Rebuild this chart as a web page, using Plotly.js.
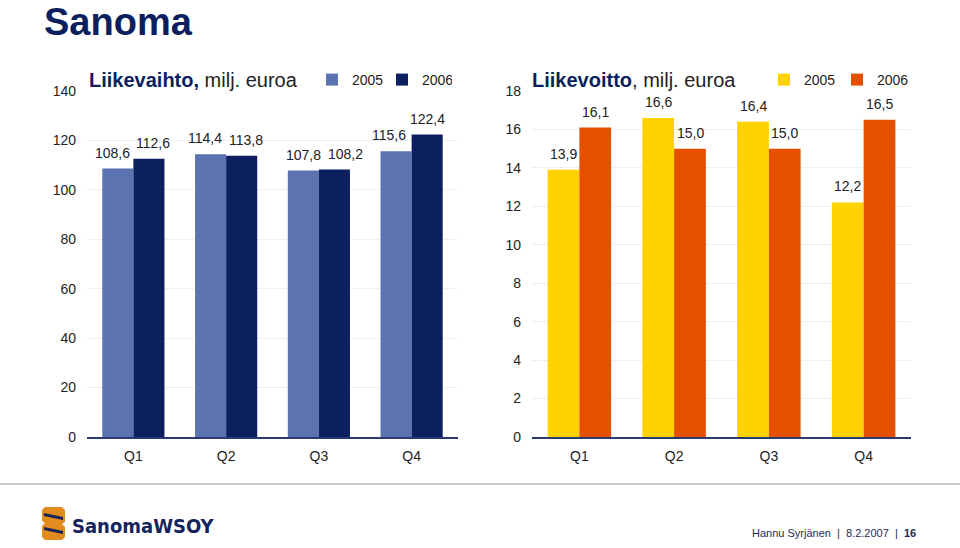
<!DOCTYPE html>
<html><head><meta charset="utf-8">
<script src="https://cdn.plot.ly/plotly-3.0.1.min.js"></script>
<style>html,body{margin:0;padding:0;background:#fff}#chart{width:960px;height:548px}</style>
</head><body><div id="chart"></div>
<script>
const quarters = ['Q1', 'Q2', 'Q3', 'Q4'];
const years = ['2005', '2006'];
const revenue2005 = [108.6, 114.4, 107.8, 115.6];
const revenue2006 = [112.6, 113.8, 108.2, 122.4];
const profit2005 = [13.9, 16.6, 16.4, 12.2];
const profit2006 = [16.1, 15.0, 15.0, 16.5];
const revenueTicks = [0, 20, 40, 60, 80, 100, 120, 140];
const profitTicks = [0, 2, 4, 6, 8, 10, 12, 14, 16, 18];

// layout helpers (pixel -> paper)
const W = 960, H = 548;
const px = x => x / W;
const py = y => 1 - y / H;
const FONT = 'Liberation Sans, Arial, Helvetica, sans-serif';
const fmt = v => v.toFixed(1).replace('.', ',');

// label nudges (pixels) to avoid overlaps, as in the original
const revNudge2005 = [-5, -6, 0, -7];
const revNudge2006 = [4, 4, 11, 0];

const C = {rev05: '#5b73b1', rev06: '#0c1f5e', pr05: '#ffd200', pr06: '#e55000', navy: '#0b1f5e', txt: '#222222'};

const traces = [
  {type: 'bar', x: quarters, y: revenue2005, name: years[0], marker: {color: C.rev05}, xaxis: 'x', yaxis: 'y', legend: 'legend', hoverinfo: 'none'},
  {type: 'bar', x: quarters, y: revenue2006, name: years[1], marker: {color: C.rev06}, xaxis: 'x', yaxis: 'y', legend: 'legend', hoverinfo: 'none'},
  {type: 'bar', x: quarters, y: profit2005, name: years[0], marker: {color: C.pr05}, xaxis: 'x2', yaxis: 'y2', legend: 'legend2', hoverinfo: 'none'},
  {type: 'bar', x: quarters, y: profit2006, name: years[1], marker: {color: C.pr06}, xaxis: 'x2', yaxis: 'y2', legend: 'legend2', hoverinfo: 'none'}
];

const gap = 0.33;
const off = (1 - gap) / 4;
const annotations = [];
function addLabels(vals, sign, xa, ya, nudges) {
  vals.forEach((v, i) => annotations.push({
    xref: xa, yref: ya, x: i + sign * off, y: v, text: fmt(v), showarrow: false,
    yanchor: 'bottom', yshift: 6, xshift: nudges ? nudges[i] : 0,
    font: {family: FONT, size: 14, color: C.txt}
  }));
}
addLabels(revenue2005, -1, 'x', 'y', revNudge2005);
addLabels(revenue2006, 1, 'x', 'y', revNudge2006);
addLabels(profit2005, -1, 'x2', 'y2');
addLabels(profit2006, 1, 'x2', 'y2');

annotations.push(
  {xref: 'paper', yref: 'paper', x: px(43), y: 1, xanchor: 'left', yanchor: 'top', showarrow: false, borderpad: 0,
   text: '<b>Sanoma</b>', font: {family: FONT, size: 38, color: C.navy}},
  {xref: 'paper', yref: 'paper', x: px(87), y: py(80), xanchor: 'left', yanchor: 'middle', showarrow: false,
   text: '<b><span style="color:' + C.navy + '">Liikevaihto,</span></b> milj. euroa', font: {family: FONT, size: 20, color: C.txt}},
  {xref: 'paper', yref: 'paper', x: px(530), y: py(80), xanchor: 'left', yanchor: 'middle', showarrow: false,
   text: '<b><span style="color:' + C.navy + '">Liikevoitto</span></b>, milj. euroa', font: {family: FONT, size: 20, color: C.txt}},
  {xref: 'paper', yref: 'paper', x: px(70), y: py(526), xanchor: 'left', yanchor: 'middle', showarrow: false,
   text: '<b>SanomaWSOY</b>', font: {family: 'Liberation Sans Narrow, DejaVu Sans Condensed, DejaVu Sans, sans-serif', size: 20, color: '#14245c'}},
  {xref: 'paper', yref: 'paper', x: px(918), y: py(533), xanchor: 'right', yanchor: 'middle', showarrow: false,
   text: 'Hannu Syrjänen  |  8.2.2007  |  <b>16</b>', font: {family: FONT, size: 11, color: '#1d2a55'}}
);

function pathOf(pts) {
  return 'M' + pts.map(p => px(p[0]) + ',' + py(p[1])).join('L') + 'Z';
}
const shapes = [
  {type: 'line', xref: 'paper', yref: 'paper', x0: 0, x1: 1, y0: py(484), y1: py(484), line: {color: '#cccccc', width: 2}},
  {type: 'path', xref: 'paper', yref: 'paper', path: pathOf([[45,507],[62,507],[65,510],[65,522],[62,524],[65,527],[65,537],[62,540],[45,540],[42,537],[42,526],[45,523],[42,521],[42,510]]),
   fillcolor: '#e28b1e', line: {width: 0}},
  {type: 'path', xref: 'paper', yref: 'paper', path: pathOf([[44,513],[63,517],[63,520],[44,516]]), fillcolor: '#13245c', line: {width: 0}},
  {type: 'path', xref: 'paper', yref: 'paper', path: pathOf([[44,527],[63,531],[63,534],[44,530]]), fillcolor: '#13245c', line: {width: 0}}
];

const xCommon = {type: 'category', showline: true, linecolor: '#2a3a70', linewidth: 1.5, ticks: '', showgrid: false,
  tickfont: {family: FONT, size: 14, color: C.txt}, ticklabelstandoff: 6, fixedrange: true, zeroline: false};
const yCommon = {showline: false, ticks: '', zeroline: false, gridcolor: '#efefef', gridwidth: 1,
  tickfont: {family: FONT, size: 14, color: C.txt}, ticklabelstandoff: 10, fixedrange: true};

const layout = {
  width: W, height: H, margin: {l: 0, r: 0, t: 0, b: 0},
  paper_bgcolor: '#fff', plot_bgcolor: '#fff',
  font: {family: FONT},
  barmode: 'group', bargap: gap, bargroupgap: 0,
  xaxis: Object.assign({}, xCommon, {domain: [px(87), px(458)], anchor: 'y'}),
  yaxis: Object.assign({}, yCommon, {domain: [1 - 437 / H, 1 - 91 / H], range: [0, 140], tickvals: revenueTicks, anchor: 'x'}),
  xaxis2: Object.assign({}, xCommon, {domain: [px(532), px(911)], anchor: 'y2'}),
  yaxis2: Object.assign({}, yCommon, {domain: [1 - 437 / H, 1 - 91 / H], range: [0, 18], tickvals: profitTicks, anchor: 'x2'}),
  legend: {orientation: 'h', x: px(312), xanchor: 'left', y: py(80), yanchor: 'middle', entrywidth: 25,
           font: {family: FONT, size: 14, color: C.txt}, bgcolor: 'rgba(0,0,0,0)'},
  legend2: {orientation: 'h', x: px(764), xanchor: 'left', y: py(80), yanchor: 'middle', entrywidth: 28,
           font: {family: FONT, size: 14, color: C.txt}, bgcolor: 'rgba(0,0,0,0)'},
  annotations: annotations,
  shapes: shapes,
  showlegend: true
};

Plotly.newPlot('chart', traces, layout, {staticPlot: true, displayModeBar: false});
</script>
</body></html>
